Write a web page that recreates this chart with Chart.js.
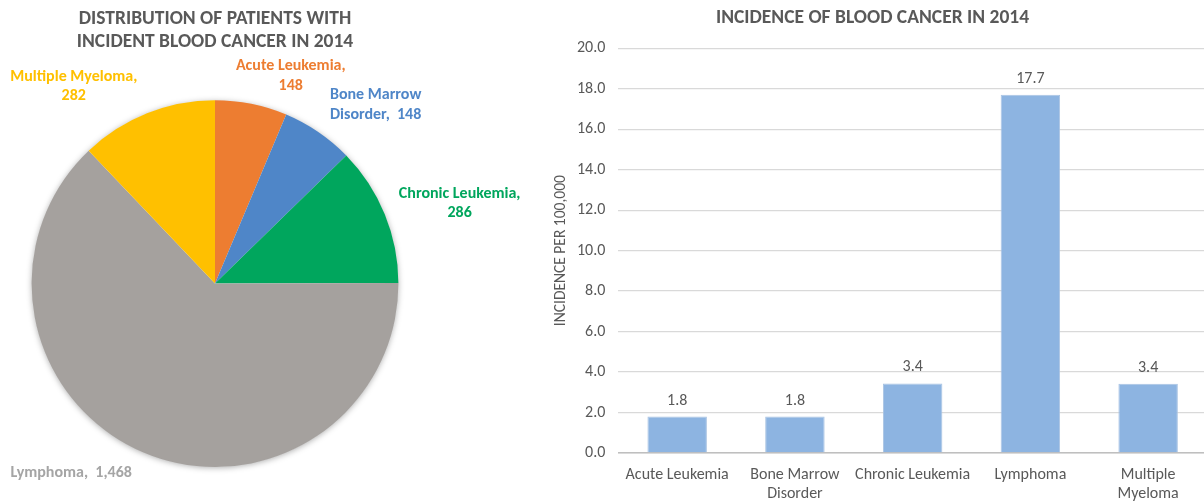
<!DOCTYPE html>
<html>
<head>
<meta charset="utf-8">
<script src="https://cdn.jsdelivr.net/npm/chart.js@4.4.1/dist/chart.umd.min.js"></script>
<style>
  html, body { margin: 0; padding: 0; background: #ffffff; overflow: hidden; }
  #wrap { position: relative; width: 1204px; height: 503px; overflow: hidden; background: #fff; }
  #barBox { position: absolute; left: 404px; top: 0; width: 803px; height: 503px; z-index: 1; }
  #pieBox { position: absolute; left: 0; top: 0; width: 540px; height: 503px; z-index: 2; }
</style>
</head>
<body>
<div id="wrap">
  <div id="barBox"><canvas id="bar" width="803" height="503"></canvas></div>
  <div id="pieBox"><canvas id="pie" width="540" height="503"></canvas></div>
</div>
<script>
// ---------------- DATA ----------------
const categories = ['Acute Leukemia', 'Bone Marrow Disorder', 'Chronic Leukemia', 'Lymphoma', 'Multiple Myeloma'];
const patientCounts = [148, 148, 286, 1468, 282];
const incidencePer100k = [1.8, 1.8, 3.44, 17.7, 3.42];
const barTickLabels = [['Acute Leukemia'], ['Bone Marrow', 'Disorder'], ['Chronic Leukemia'], ['Lymphoma'], ['Multiple', 'Myeloma']];
const pieTitleLines = ['DISTRIBUTION OF PATIENTS WITH', 'INCIDENT BLOOD CANCER IN 2014'];
const barTitle = 'INCIDENCE OF BLOOD CANCER IN 2014';
const yAxisTitle = 'INCIDENCE PER 100,000';
const pieLabelBreaks = ['value', 'word', 'value', 'none', 'value'];

// ---------------- STYLE ----------------
const FONT = 'Carlito, Lato, "Liberation Sans", sans-serif';
const TEXT = '#595959';
const pieColors = ['#ED7D31', '#4F86C8', '#00A65D', '#A5A19E', '#FFC000'];
const pieLabelColors = ['#ED7D31', '#4F86C8', '#00A65D', '#A5A5A5', '#FFC000'];
// label anchor positions relative to pie centre, in units of the radius
const pieLabelOffsets = [[0.413, -1.133], [0.876, -0.973], [1.334, -0.436], [-0.784, 1.033], [-0.770, -1.076]];

function pieLabelLines(i) {
  const name = categories[i];
  const val = patientCounts[i].toLocaleString('en-US');
  const mode = pieLabelBreaks[i];
  if (mode === 'value') return [name + ',', val];
  if (mode === 'word') {
    const w = name.split(' ');
    return [w.slice(0, 2).join(' '), w.slice(2).join(' ') + ',  ' + val];
  }
  return [name + ',  ' + val];
}

const pieShadow = {
  id: 'pieShadow',
  beforeDatasetsDraw(chart) {
    const arc = chart.getDatasetMeta(0).data[0];
    if (!arc) return;
    const ctx = chart.ctx;
    ctx.save();
    ctx.shadowColor = 'rgba(0,0,0,0.35)';
    ctx.shadowBlur = 6;
    ctx.shadowOffsetX = 0;
    ctx.shadowOffsetY = 1;
    ctx.fillStyle = '#ffffff';
    ctx.beginPath();
    ctx.arc(arc.x, arc.y, arc.outerRadius - 0.5, 0, Math.PI * 2);
    ctx.fill();
    ctx.restore();
  }
};

const pieLabels = {
  id: 'pieLabels',
  afterDatasetsDraw(chart) {
    const meta = chart.getDatasetMeta(0);
    const ctx = chart.ctx;
    ctx.save();
    ctx.font = 'bold 16px ' + FONT;
    ctx.textAlign = 'center';
    ctx.textBaseline = 'middle';
    meta.data.forEach((arc, i) => {
      const r = arc.outerRadius;
      const cx = arc.x + pieLabelOffsets[i][0] * r;
      const cy = arc.y + pieLabelOffsets[i][1] * r;
      const lines = pieLabelLines(i);
      const lh = 19.5;
      ctx.fillStyle = pieLabelColors[i];
      lines.forEach((t, k) => {
        ctx.fillText(t, cx, cy + (k - (lines.length - 1) / 2) * lh);
      });
    });
    ctx.restore();
  }
};

new Chart(document.getElementById('pie'), {
  type: 'pie',
  data: {
    labels: categories,
    datasets: [{
      data: patientCounts,
      backgroundColor: pieColors,
      borderWidth: 0
    }]
  },
  options: {
    responsive: false,
    animation: false,
    layout: { padding: { left: 0, right: 110, top: 0, bottom: 36 } },
    plugins: {
      legend: { display: false },
      tooltip: { enabled: false },
      title: {
        display: true,
        text: pieTitleLines,
        color: TEXT,
        font: { family: FONT, size: 19.5, weight: 'bold', lineHeight: 1.2 },
        padding: { top: 7, bottom: 46.4 }
      }
    }
  },
  plugins: [pieShadow, pieLabels]
});

const barValueLabels = {
  id: 'barValueLabels',
  afterDatasetsDraw(chart) {
    const meta = chart.getDatasetMeta(0);
    const ctx = chart.ctx;
    ctx.save();
    ctx.font = '16px ' + FONT;
    ctx.fillStyle = TEXT;
    ctx.textAlign = 'center';
    ctx.textBaseline = 'bottom';
    meta.data.forEach((bar, i) => {
      ctx.fillText(incidencePer100k[i].toFixed(1), bar.x, bar.y - 8);
    });
    ctx.restore();
  }
};

new Chart(document.getElementById('bar'), {
  type: 'bar',
  data: {
    labels: barTickLabels,
    datasets: [{
      data: incidencePer100k,
      backgroundColor: '#8DB4E1',
      borderColor: '#A9C3E2',
      borderWidth: 1,
      barPercentage: 0.505,
      categoryPercentage: 1.0
    }]
  },
  options: {
    responsive: false,
    animation: false,
    layout: { padding: { left: 134, right: 0, top: 0, bottom: 0 } },
    plugins: {
      legend: { display: false },
      tooltip: { enabled: false },
      title: {
        display: true,
        text: barTitle,
        color: TEXT,
        font: { family: FONT, size: 19.5, weight: 'bold', lineHeight: 1.2 },
        padding: { top: 6.5, bottom: 18.4 }
      }
    },
    scales: {
      x: {
        grid: { display: false, drawTicks: false },
        border: { display: true, color: '#BFBFBF', width: 1.5 },
        ticks: {
          color: TEXT,
          font: { family: FONT, size: 16, lineHeight: 1.2 },
          padding: 12,
          maxRotation: 0,
          autoSkip: false
        },
        afterFit(s) { s.height = 50; }
      },
      y: {
        min: 0,
        max: 20,
        grid: { color: '#D9D9D9', lineWidth: 1.3, drawTicks: false },
        border: { display: false },
        ticks: {
          stepSize: 2,
          color: TEXT,
          font: { family: FONT, size: 16 },
          padding: 13,
          callback: v => Number(v).toFixed(1)
        },
        title: {
          display: true,
          text: yAxisTitle,
          color: TEXT,
          font: { family: FONT, size: 15.5, lineHeight: 1.2 },
          padding: { top: 13.7, bottom: 0 }
        },
        afterFit(s) { s.width = 80.3; }
      }
    }
  },
  plugins: [barValueLabels]
});
</script>
</body>
</html>
